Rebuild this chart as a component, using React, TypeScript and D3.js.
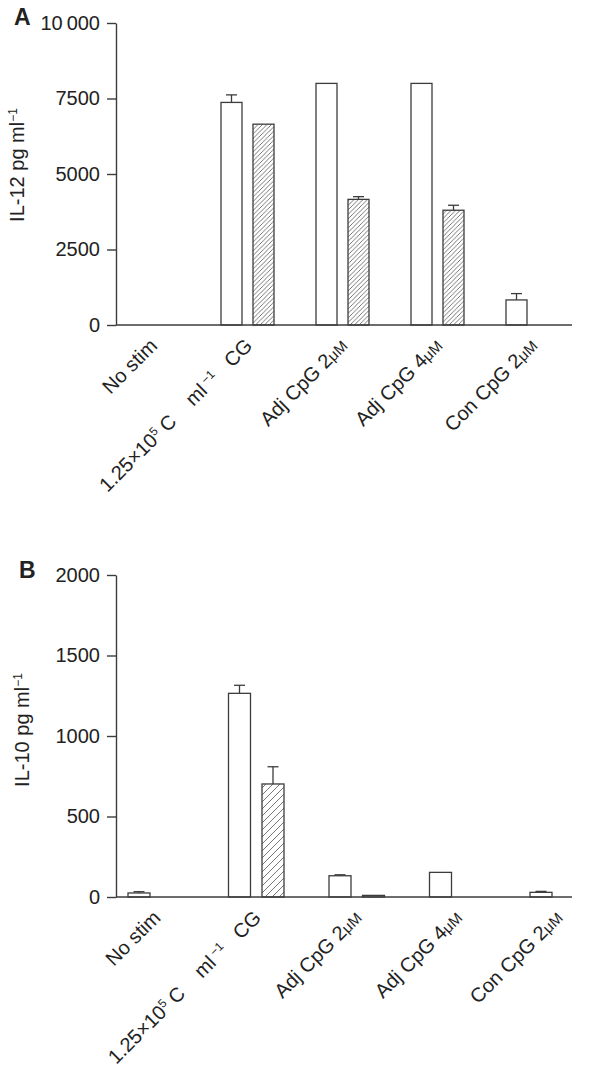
import React, { useEffect, useRef } from 'react';
import * as d3 from 'd3';

// x categories, shared by both panels; ^{..} = superscript, {..} = small unit text
const categories = [
  'No stim',
  '1.25×10^{5} C    ml^{ −1}   CG',
  'Adj CpG 2{μM}',
  'Adj CpG 4{μM}',
  'Con CpG 2{μM}',
];
const series = ['open', 'hatched'];

// panel A: IL-12
const il12Ticks = [0, 2500, 5000, 7500, 10000];
const il12Open = [null, 7370, 8000, 8000, 830];
const il12OpenErr = [0, 250, 0, 0, 210];
const il12Hatched = [null, 6650, 4160, 3800, null];
const il12HatchedErr = [0, 0, 90, 165, 0];

// panel B: IL-10
const il10Ticks = [0, 500, 1000, 1500, 2000];
const il10Open = [25, 1265, 132, 153, 29];
const il10OpenErr = [8, 50, 6, 0, 6];
const il10Hatched = [null, 702, 10, null, null];
const il10HatchedErr = [0, 107, 0, 0, 0];

const FONT = '"Liberation Sans", Arial, Helvetica, sans-serif';
const INK = '#3c3c3c';

function addRich(sel, str) {
  const re = /\^\{([^}]*)\}|\{([^}]*)\}/g;
  let last = 0;
  let m;
  while ((m = re.exec(str))) {
    if (m.index > last) sel.append('tspan').text(str.slice(last, m.index));
    if (m[1] !== undefined) {
      sel.append('tspan').attr('baseline-shift', 'super').attr('font-size', 12).text(m[1]);
    } else {
      sel.append('tspan').attr('font-size', 15).text(m[2]);
    }
    last = re.lastIndex;
  }
  if (last < str.length) sel.append('tspan').text(str.slice(last));
}

function drawPanel(svg, cfg) {
  const g = svg.append('g');

  const y = d3.scaleLinear().domain([0, cfg.max]).range([cfg.zeroY, cfg.topY]);
  const x0 = d3.scaleBand()
    .domain(categories)
    .range([cfg.left, cfg.left + cfg.step * categories.length]);
  const xs = d3.scaleBand()
    .domain(series)
    .range([cfg.offset, cfg.offset + cfg.pitch + cfg.barW])
    .paddingInner((cfg.pitch - cfg.barW) / cfg.pitch);
  const pairMid = cfg.offset + (cfg.pitch + cfg.barW) / 2;

  // hatch pattern
  const s = cfg.hatch;
  svg.select('defs').append('pattern')
    .attr('id', cfg.id)
    .attr('patternUnits', 'userSpaceOnUse')
    .attr('width', s)
    .attr('height', s)
    .append('path')
    .attr('d', `M0,${s} L${s},0 M${-s / 4},${s / 4} L${s / 4},${-s / 4} M${s * 0.75},${s * 1.25} L${s * 1.25},${s * 0.75}`)
    .attr('stroke', '#555')
    .attr('stroke-width', 0.8);

  const sets = [
    { key: 'open', vals: cfg.open, errs: cfg.openErr, fill: '#fff' },
    { key: 'hatched', vals: cfg.hatched, errs: cfg.hatchedErr, fill: `url(#${cfg.id})` },
  ];

  sets.forEach(set => {
    const data = categories
      .map((c, i) => ({ c, v: set.vals[i], e: set.errs[i] }))
      .filter(d => d.v != null);

    g.append('g')
      .selectAll('rect')
      .data(data)
      .join('rect')
        .attr('x', d => x0(d.c) + xs(set.key))
        .attr('y', d => y(d.v))
        .attr('width', xs.bandwidth())
        .attr('height', d => y(0) - y(d.v))
        .attr('fill', set.fill)
        .attr('stroke', INK)
        .attr('stroke-width', 1.3);

    const errG = g.append('g').attr('stroke', INK).attr('stroke-width', 1.3);
    data.filter(d => d.e > 0).forEach(d => {
      const cx = x0(d.c) + xs(set.key) + xs.bandwidth() / 2;
      errG.append('line')
        .attr('x1', cx).attr('x2', cx)
        .attr('y1', y(d.v)).attr('y2', y(d.v + d.e));
      errG.append('line')
        .attr('x1', cx - 5.5).attr('x2', cx + 5.5)
        .attr('y1', y(d.v + d.e)).attr('y2', y(d.v + d.e));
    });
  });

  // y axis
  const yAxis = g.append('g')
    .attr('transform', `translate(${cfg.left},0)`)
    .call(d3.axisLeft(y)
      .tickValues(cfg.ticks)
      .tickSize(9)
      .tickSizeOuter(0)
      .tickPadding(7)
      .tickFormat(cfg.fmt));
  yAxis.select('.domain').attr('stroke', INK).attr('stroke-width', 1.4);
  yAxis.selectAll('.tick line').attr('stroke', INK).attr('stroke-width', 1.4);
  yAxis.selectAll('.tick text')
    .attr('font-family', FONT)
    .attr('font-size', 20)
    .attr('fill', '#222');

  // x axis baseline
  g.append('line')
    .attr('x1', cfg.left).attr('x2', cfg.axisEnd)
    .attr('y1', y(0)).attr('y2', y(0))
    .attr('stroke', INK)
    .attr('stroke-width', 1.4);

  // category labels
  categories.forEach(c => {
    const t = g.append('text')
      .attr('transform', `translate(${x0(c) + pairMid + 6},${y(0) + 22}) rotate(-45)`)
      .attr('text-anchor', 'end')
      .attr('font-family', FONT)
      .attr('font-size', 20)
      .attr('fill', '#222')
      .style('white-space', 'pre');
    addRich(t, c);
  });

  // y title
  const yt = g.append('text')
    .attr('transform', `translate(${cfg.titleX},${cfg.titleY}) rotate(-90)`)
    .attr('text-anchor', 'middle')
    .attr('font-family', FONT)
    .attr('font-size', 20)
    .attr('fill', '#222');
  addRich(yt, cfg.title);

  // panel letter
  g.append('text')
    .attr('x', cfg.letterX)
    .attr('y', cfg.letterY)
    .attr('font-family', FONT)
    .attr('font-size', 23)
    .attr('font-weight', 'bold')
    .attr('fill', '#222')
    .text(cfg.letter);
}

const App = () => {
  const svgRef = useRef(null);

  useEffect(() => {
    const svg = d3.select(svgRef.current);
    svg.selectAll('*').remove();
    svg.append('defs');

    drawPanel(svg, {
      id: 'hatchA', letter: 'A', letterX: 14, letterY: 25,
      title: 'IL-12 pg ml^{−1}', titleX: 24, titleY: 165,
      max: 10000, ticks: il12Ticks,
      fmt: d => (d === 10000 ? '10\u2009000' : String(d)),
      zeroY: 325, topY: 23, left: 116, axisEnd: 572,
      step: 95, offset: 10, pitch: 32, barW: 21, hatch: 4.5,
      open: il12Open, openErr: il12OpenErr,
      hatched: il12Hatched, hatchedErr: il12HatchedErr,
    });

    drawPanel(svg, {
      id: 'hatchB', letter: 'B', letterX: 19, letterY: 578,
      title: 'IL-10 pg ml^{−1}', titleX: 29, titleY: 730,
      max: 2000, ticks: il10Ticks,
      fmt: d => String(d),
      zeroY: 897, topY: 575, left: 116, axisEnd: 572,
      step: 100.5, offset: 12, pitch: 33.5, barW: 22, hatch: 7,
      open: il10Open, openErr: il10OpenErr,
      hatched: il10Hatched, hatchedErr: il10HatchedErr,
    });
  }, []);

  return (
    <svg
      ref={svgRef}
      width={600}
      height={1077}
      style={{ position: 'absolute', left: 0, top: 0, background: '#fff' }}
    />
  );
};

export default App;
